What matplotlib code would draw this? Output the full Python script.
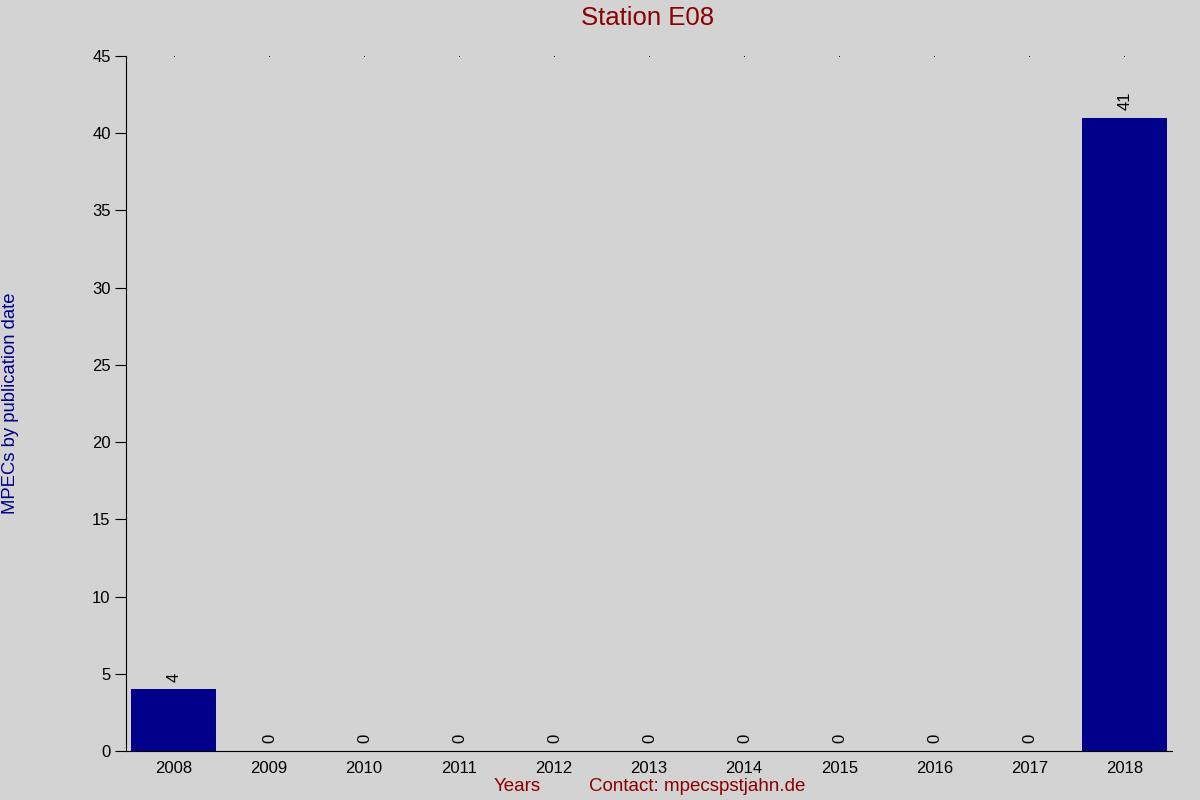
import matplotlib
matplotlib.use("Agg")
import matplotlib.pyplot as plt

## DATA
years = ["2008", "2009", "2010", "2011", "2012", "2013", "2014", "2015", "2016", "2017", "2018"]
mpecs = [4, 0, 0, 0, 0, 0, 0, 0, 0, 0, 41]
y_ticks = [0, 5, 10, 15, 20, 25, 30, 35, 40, 45]

## COLOURS
BG = "#D3D3D3"
BAR = "#00008B"
RED = "#8B0000"

plt.rcParams["font.family"] = ["Liberation Sans", "DejaVu Sans"]

fig = plt.figure(figsize=(12, 8), dpi=100, facecolor=BG)
ax = fig.add_axes([0.105, 0.06125, 0.8717, 0.86875])
ax.set_facecolor(BG)

pos = list(range(len(years)))
ax.bar(pos, mpecs, width=0.9, color=BAR, zorder=2)

# value labels above each bar
for p, v in zip(pos, mpecs):
    ax.text(p + 0.01, v + 0.5, str(v), rotation=90, ha="center", va="bottom",
            fontsize=12, color="black")

# small dots along the top at each year
ax.plot(pos, [max(y_ticks)] * len(pos), linestyle="none", marker="s",
        markersize=0.7, markeredgewidth=0, color="black", clip_on=False)

ax.set_xlim(-0.5, len(years) - 0.5)
ax.set_ylim(0, max(y_ticks))
ax.set_yticks(y_ticks)
ax.set_xticks(pos)
ax.set_xticklabels(years)
ax.tick_params(axis="y", length=8, labelsize=12, pad=3)
ax.tick_params(axis="x", length=0, labelsize=12, pad=7)

for side in ["top", "right"]:
    ax.spines[side].set_visible(False)

fig.text(0.54, 0.977, "Station E08", ha="center", va="center", fontsize=18.5, color=RED)
fig.text(0.009, 0.496, "MPECs by publication date", rotation=90, ha="center",
         va="center", fontsize=13.3, color=BAR)
fig.text(0.431, 0.017, "Years", ha="center", va="center", fontsize=13.5, color=RED)
fig.text(0.581, 0.017, "Contact: mpecspstjahn.de", ha="center", va="center",
         fontsize=13.5, color=RED)

fig.savefig("out.png", dpi=100, facecolor=BG)
